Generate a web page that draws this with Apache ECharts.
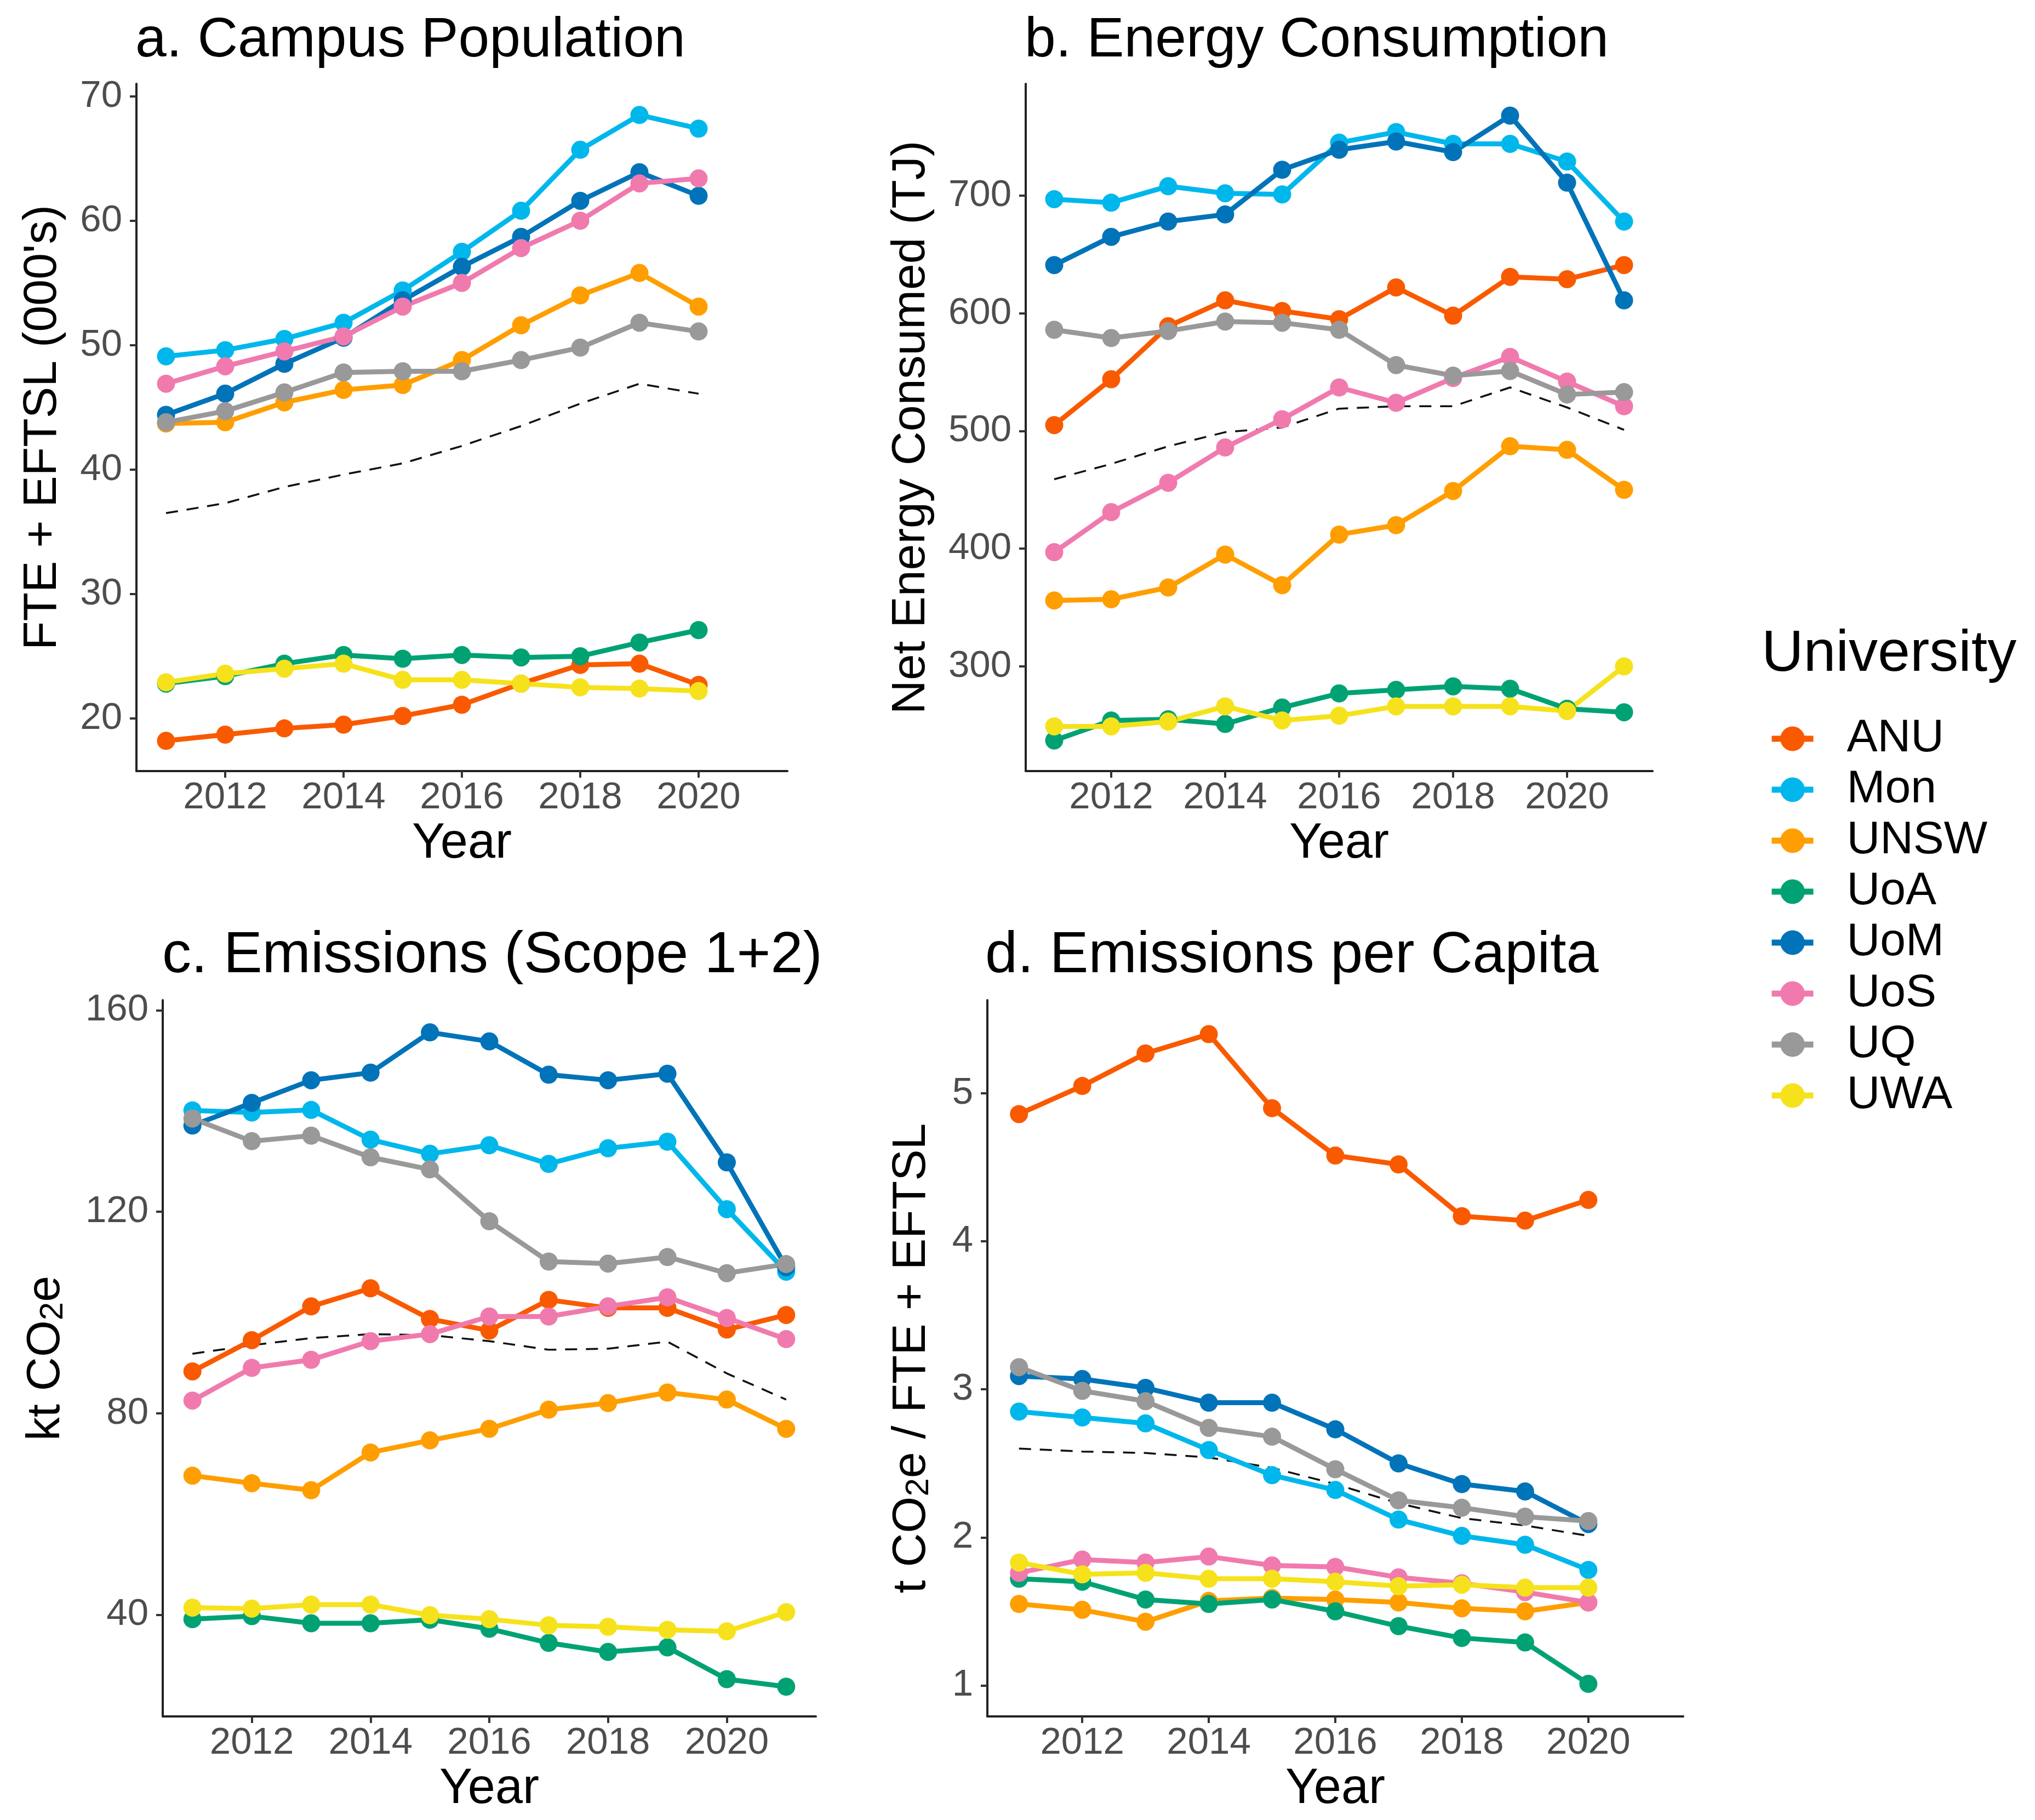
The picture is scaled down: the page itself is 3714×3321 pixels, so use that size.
<!DOCTYPE html>
<html>
<head>
<meta charset="utf-8">
<title>University campus population, energy and emissions</title>
<script src="https://cdn.jsdelivr.net/npm/echarts@6/dist/echarts.min.js"></script>
<style>
  html, body { margin: 0; padding: 0; background: #fff; }
  #chart-container { width: 3714px; height: 3321px; }
</style>
</head>
<body>
<div id="chart-container"></div>
<script>
// Years and tick labels
const years = [2011, 2012, 2013, 2014, 2015, 2016, 2017, 2018, 2019, 2020, 2021];
const yearTicks = [2012, 2014, 2016, 2018, 2020];
const universities = ['ANU', 'Mon', 'UNSW', 'UoA', 'UoM', 'UoS', 'UQ', 'UWA'];
const uniColors = ['#F95A00', '#00B7EC', '#FF9E00', '#00A274', '#0073B9', '#F07AAE', '#999999', '#F6E21C'];

// a. Campus Population (000's), 2011-2020
const popANU  = [18.2, 18.7, 19.2, 19.5, 20.2, 21.1, 22.8, 24.3, 24.4, 22.7];
const popMon  = [49.1, 49.6, 50.5, 51.8, 54.4, 57.5, 60.8, 65.7, 68.5, 67.4];
const popUNSW = [43.7, 43.8, 45.4, 46.4, 46.8, 48.8, 51.6, 54.0, 55.8, 53.1];
const popUoA  = [22.8, 23.4, 24.4, 25.1, 24.8, 25.1, 24.9, 25.0, 26.1, 27.1];
const popUoM  = [44.4, 46.1, 48.5, 50.6, 53.6, 56.3, 58.7, 61.6, 63.9, 62.0];
const popUoS  = [46.9, 48.3, 49.5, 50.7, 53.1, 55.0, 57.8, 60.0, 63.0, 63.4];
const popUQ   = [43.8, 44.7, 46.2, 47.8, 47.9, 47.9, 48.8, 49.8, 51.8, 51.1];
const popUWA  = [22.9, 23.6, 24.0, 24.4, 23.1, 23.1, 22.8, 22.5, 22.4, 22.2];
const popMean = [36.5, 37.3, 38.6, 39.6, 40.5, 41.9, 43.5, 45.3, 46.9, 46.1];
const popTicks = [20, 30, 40, 50, 60, 70];

// b. Net energy consumed (TJ), 2011-2021
const enANU  = [505, 544, 589, 611, 602, 595, 622, 598, 631, 629, 641];
const enMon  = [697, 694, 708, 702, 701, 745, 754, 744, 744, 729, 678];
const enUNSW = [356, 357, 367, 395, 369, 412, 420, 449, 487, 484, 450];
const enUoA  = [237, 254, 255, 251, 265, 277, 280, 283, 281, 264, 261];
const enUoM  = [641, 665, 678, 684, 722, 739, 746, 737, 768, 711, 611];
const enUoS  = [397, 431, 456, 486, 510, 537, 524, 545, 563, 542, 521];
const enUQ   = [586, 579, 585, 593, 592, 586, 556, 547, 551, 531, 533];
const enUWA  = [249, 249, 253, 266, 254, 258, 266, 266, 266, 262, 300];
const enMean = [459, 472, 487, 499, 503, 519, 521, 521, 537, 520, 501];
const enTicks = [300, 400, 500, 600, 700];

// c. Emissions scope 1+2 (kt CO2e), 2011-2021
const emANU  = [88.3, 94.5, 101.2, 104.8, 98.7, 96.4, 102.5, 100.9, 100.9, 96.6, 99.5];
const emMon  = [140.1, 139.7, 140.2, 134.3, 131.5, 133.2, 129.5, 132.6, 133.9, 120.5, 108.1];
const emUNSW = [67.6, 66.1, 64.7, 72.2, 74.6, 76.9, 80.7, 82.0, 84.1, 82.7, 76.9];
const emUoA  = [39.1, 39.7, 38.3, 38.3, 39.0, 37.2, 34.4, 32.6, 33.5, 27.2, 25.7];
const emUoM  = [137.1, 141.6, 146.1, 147.6, 155.6, 153.8, 147.2, 146.1, 147.4, 129.8, 109.0];
const emUoS  = [82.5, 89.0, 90.6, 94.3, 95.7, 99.2, 99.2, 101.2, 103.0, 98.9, 94.7];
const emUQ   = [138.5, 134.0, 135.1, 130.8, 128.4, 118.1, 110.1, 109.7, 111.0, 107.8, 109.6];
const emUWA  = [41.4, 41.2, 42.0, 42.0, 39.9, 39.1, 37.9, 37.6, 37.0, 36.7, 40.5];
const emMean = [91.8, 93.5, 94.9, 95.7, 95.5, 94.3, 92.6, 92.8, 94.2, 87.9, 82.7];
const emTicks = [40, 80, 120, 160];

// d. Emissions per capita (t CO2e / FTE + EFTSL), 2011-2020
const pcANU  = [4.86, 5.05, 5.27, 5.40, 4.90, 4.58, 4.52, 4.17, 4.14, 4.28];
const pcMon  = [2.85, 2.81, 2.77, 2.59, 2.42, 2.32, 2.12, 2.01, 1.95, 1.78];
const pcUNSW = [1.55, 1.51, 1.43, 1.57, 1.59, 1.58, 1.56, 1.52, 1.50, 1.56];
const pcUoA  = [1.72, 1.70, 1.58, 1.55, 1.58, 1.50, 1.40, 1.32, 1.29, 1.01];
const pcUoM  = [3.09, 3.07, 3.01, 2.91, 2.91, 2.73, 2.50, 2.36, 2.31, 2.09];
const pcUoS  = [1.76, 1.85, 1.83, 1.87, 1.81, 1.80, 1.73, 1.69, 1.63, 1.56];
const pcUQ   = [3.15, 2.99, 2.92, 2.74, 2.68, 2.46, 2.25, 2.20, 2.14, 2.11];
const pcUWA  = [1.83, 1.75, 1.76, 1.72, 1.72, 1.70, 1.67, 1.68, 1.66, 1.66];
const pcMean = [2.60, 2.58, 2.57, 2.54, 2.47, 2.36, 2.23, 2.13, 2.08, 2.01];
const pcTicks = [1, 2, 3, 4, 5];

const FONT = 'Liberation Sans, Arial, sans-serif';

const panels = [
  { title: 'a. Campus Population', uni: [popANU, popMon, popUNSW, popUoA, popUoM, popUoS, popUQ, popUWA], mean: popMean,
    ticks: popTicks, min: 15.77, max: 71.0, grid: { left: 249, top: 153, width: 1188, height: 1254 },
    titlePos: { left: 247, top: 24 }, titleSize: 102, yName: "FTE + EFTSL (000's)", nameGap: 128 },
  { title: 'b. Energy Consumption', uni: [enANU, enMon, enUNSW, enUoA, enUoM, enUoS, enUQ, enUWA], mean: enMean,
    ticks: enTicks, min: 211, max: 795, grid: { left: 1872, top: 153, width: 1144, height: 1254 },
    titlePos: { left: 1870, top: 24 }, titleSize: 102, yName: 'Net Energy Consumed (TJ)', nameGap: 166 },
  { title: 'c. Emissions (Scope 1+2)', uni: [emANU, emMon, emUNSW, emUoA, emUoM, emUoS, emUQ, emUWA], mean: emMean,
    ticks: emTicks, min: 19.8, max: 162.0, grid: { left: 297, top: 1825, width: 1192, height: 1307 },
    titlePos: { left: 296, top: 1692 }, titleSize: 106, yName: '{n|kt CO}{s|2}{n|e}', nameGap: 170 },
  { title: 'd. Emissions per Capita', uni: [pcANU, pcMon, pcUNSW, pcUoA, pcUoM, pcUoS, pcUQ, pcUWA], mean: pcMean,
    ticks: pcTicks, min: 0.79, max: 5.63, grid: { left: 1802, top: 1825, width: 1270, height: 1307 },
    titlePos: { left: 1798, top: 1692 }, titleSize: 106, yName: '{n|t CO}{s|2}{n|e / FTE + EFTSL}', nameGap: 95 }
];

const axisLine = { show: true, lineStyle: { color: '#222', width: 4 } };
const axisTick = { show: true, length: 12, lineStyle: { color: '#333', width: 4 } };
const labelStyle = { fontFamily: FONT, fontSize: 69, color: '#4d4d4d' };

const grid = [], xAxis = [], yAxis = [], title = [], series = [];

panels.forEach(function (p, i) {
  grid.push(Object.assign({ containLabel: false }, p.grid));
  title.push({
    text: p.title, left: p.titlePos.left, top: p.titlePos.top, padding: 0,
    textStyle: { fontFamily: FONT, fontSize: p.titleSize, fontWeight: 'normal', color: '#000' }
  });
  xAxis.push({
    type: 'value', gridIndex: i, min: 2010.5, max: 2021.5,
    axisLine: axisLine,
    axisTick: Object.assign({ customValues: yearTicks }, axisTick),
    axisLabel: Object.assign({ customValues: yearTicks, margin: 14,
      formatter: function (v) { return String(v); } }, labelStyle),
    splitLine: { show: false },
    name: 'Year', nameLocation: 'middle', nameGap: 88,
    nameTextStyle: { fontFamily: FONT, fontSize: 90, color: '#000' }
  });
  yAxis.push({
    type: 'value', gridIndex: i, min: p.min, max: p.max,
    axisLine: axisLine,
    axisTick: Object.assign({ customValues: p.ticks }, axisTick),
    axisLabel: Object.assign({ customValues: p.ticks, margin: 26 }, labelStyle),
    splitLine: { show: false },
    name: p.yName, nameLocation: 'middle', nameGap: p.nameGap,
    nameTextStyle: {
      fontFamily: FONT, fontSize: 86, color: '#000',
      rich: {
        n: { fontFamily: FONT, fontSize: 86, lineHeight: 86, color: '#000' },
        s: { fontFamily: FONT, fontSize: 60, lineHeight: 48, verticalAlign: 'bottom', color: '#000' }
      }
    }
  });

  // dashed mean line
  series.push({
    name: 'Mean', type: 'line', xAxisIndex: i, yAxisIndex: i,
    data: p.mean.map(function (v, k) { return [years[k], v]; }),
    symbol: 'none', silent: true,
    lineStyle: { color: '#111', width: 3.5, type: [22, 16] }
  });

  universities.forEach(function (u, j) {
    series.push({
      name: u, type: 'line', xAxisIndex: i, yAxisIndex: i,
      data: p.uni[j].map(function (v, k) { return [years[k], v]; }),
      symbol: 'circle', symbolSize: 33, showSymbol: true,
      itemStyle: { color: uniColors[j] },
      lineStyle: { color: uniColors[j], width: 9 }
    });
  });
});

const myChart = echarts.init(document.getElementById('chart-container'), null, { renderer: 'canvas' });

const option = {
  backgroundColor: '#fff',
  animation: false,
  title: title,
  grid: grid,
  xAxis: xAxis,
  yAxis: yAxis,
  legend: {
    data: universities,
    orient: 'vertical',
    left: 3223, top: 1301,
    itemWidth: 76, itemHeight: 56, itemGap: 9,
    lineStyle: { width: 11 },
    textStyle: { fontFamily: FONT, fontSize: 84, lineHeight: 84, color: '#000', padding: [0, 0, 0, 56] },
    selectedMode: false
  },
  graphic: [{
    type: 'text', left: 3215, top: 1142,
    style: { text: 'University', font: '106px ' + FONT, fill: '#000' }
  }],
  series: series
};

myChart.setOption(option);
</script>
</body>
</html>
